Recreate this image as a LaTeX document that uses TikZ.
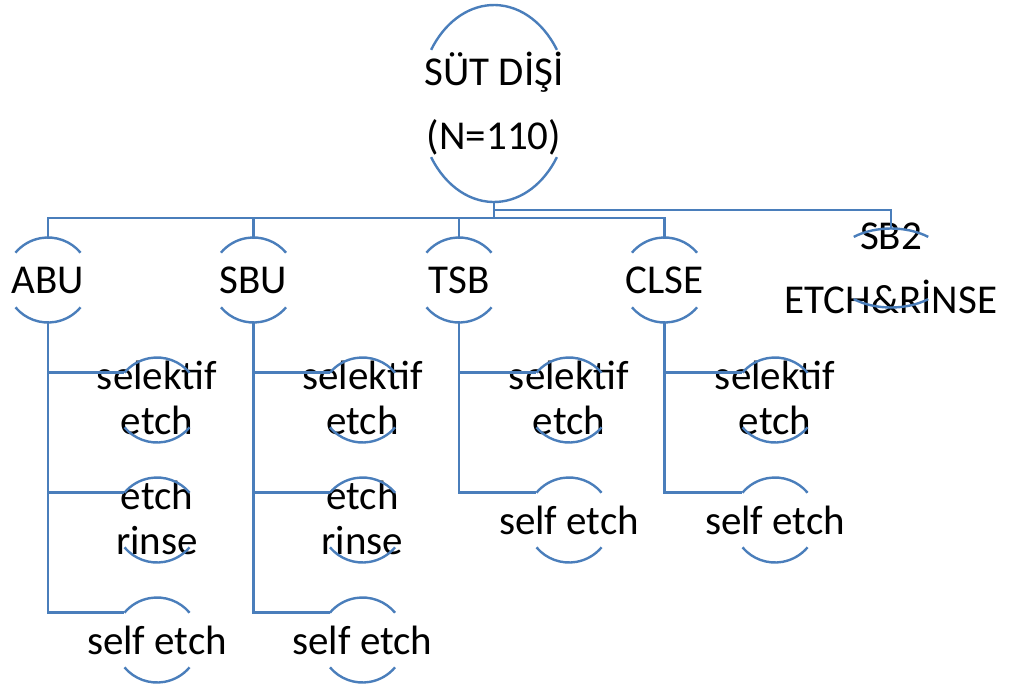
\documentclass[tikz,border=0pt]{standalone}
\usepackage{fontspec}
\setmainfont{Carlito}
\usetikzlibrary{shapes.geometric,calc}
\definecolor{linkblue}{RGB}{74,126,187}
\tikzset{
  conn/.style={draw=linkblue, line width=2.4pt},
  txt/.style={font=\fontsize{41}{45}\selectfont, align=center, inner sep=0pt, text=black},
  bigtxt/.style={font=\fontsize{41}{64}\selectfont, align=center, inner sep=0pt, text=black},
  bubble/.style={circle, minimum size=85pt, inner sep=0pt},
}
% top and bottom arcs of a bubble: node, x radius, y radius, start angle
\newcommand\bubblearcs[4]{%
  \draw[conn] ($(#1.center)+(#4:#2 and #3)$)
    arc[start angle=#4, end angle={180-#4}, x radius=#2, y radius=#3];
  \draw[conn] ($(#1.center)+({180+#4}:#2 and #3)$)
    arc[start angle={180+#4}, end angle={360-#4}, x radius=#2, y radius=#3];
}
\begin{document}
\begin{tikzpicture}[x=1pt,y=-1pt]
\useasboundingbox (0,0) rectangle (1017,689);

% root
\node[ellipse, minimum width=150pt, minimum height=197pt, inner sep=0pt,
      label={[bigtxt]center:{SÜT DİŞİ\\(N=110)}}] (root) at (494,103.5) {};

% first level
\node[bubble, label={[txt]center:ABU}]  (abu)  at (48,280)    {};
\node[bubble, label={[txt]center:SBU}]  (sbu)  at (253.5,280) {};
\node[bubble, label={[txt]center:TSB}]  (tsb)  at (459,280)   {};
\node[bubble, label={[txt]center:CLSE}] (clse) at (664.5,280) {};
\node[ellipse, minimum width=121pt, minimum height=79pt, inner sep=0pt,
      label={[bigtxt]center:{SB2\\ETCH\&RİNSE}}] (sb2) at (891,268) {};

% second level
\node[bubble, label={[txt,yshift=2pt]center:{selektif\\etch}}] (abu1) at (157,400) {};
\node[bubble, label={[txt,yshift=2pt]center:{etch\\rinse}}]    (abu2) at (157,520) {};
\node[bubble, label={[txt]center:{self etch}}]                 (abu3) at (157,640) {};

\node[bubble, label={[txt,yshift=2pt]center:{selektif\\etch}}] (sbu1) at (362.5,400) {};
\node[bubble, label={[txt,yshift=2pt]center:{etch\\rinse}}]    (sbu2) at (362.5,520) {};
\node[bubble, label={[txt]center:{self etch}}]                 (sbu3) at (362.5,640) {};

\node[bubble, label={[txt,yshift=2pt]center:{selektif\\etch}}] (tsb1) at (569,400) {};
\node[bubble, label={[txt]center:{self etch}}]                 (tsb2) at (569,520) {};

\node[bubble, label={[txt,yshift=2pt]center:{selektif\\etch}}] (clse1) at (775,400) {};
\node[bubble, label={[txt]center:{self etch}}]                 (clse2) at (775,520) {};

% bubble outlines
\bubblearcs{root}{75pt}{98.5pt}{33}
\bubblearcs{sb2}{60.5pt}{39.5pt}{52}
\foreach \n in {abu,sbu,tsb,clse,abu1,abu2,abu3,sbu1,sbu2,sbu3,tsb1,tsb2,clse1,clse2}
  {\bubblearcs{\n}{42.5pt}{42.5pt}{40}}

% bus lines below the root
\coordinate (bus) at (494,218);
\coordinate (sbbus) at (494,210);
\foreach \n in {abu,sbu,tsb,clse}
  \draw[conn] (root.south) |- (\n.north |- bus) -- (\n.north);
\draw[conn] (root.south) |- (sb2.north |- sbbus) -- (sb2.north);

% branches to the second level
\foreach \p/\c in {abu/abu1,abu/abu2,abu/abu3,sbu/sbu1,sbu/sbu2,sbu/sbu3,
                   tsb/tsb1,tsb/tsb2,clse/clse1,clse/clse2}
  \draw[conn] (\p.south) |- (\c.140);
\end{tikzpicture}
\end{document}
